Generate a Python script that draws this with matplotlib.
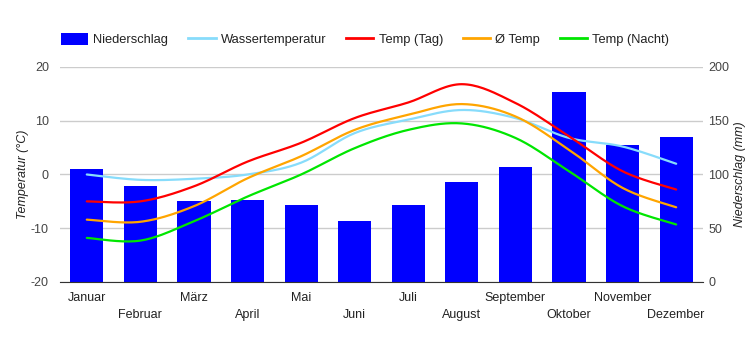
import numpy as np
import matplotlib.pyplot as plt
from matplotlib.patches import Patch
from matplotlib.lines import Line2D

plt.rcParams['font.family'] = ['Liberation Sans', 'DejaVu Sans']
plt.rcParams['axes.unicode_minus'] = False

months = ['Januar', 'Februar', 'März', 'April', 'Mai', 'Juni', 'Juli',
          'August', 'September', 'Oktober', 'November', 'Dezember']
niederschlag = [105, 89, 75, 76, 72, 57, 72, 93, 107, 177, 127, 135]
wasser = [0, -1, -0.8, 0, 2.2, 7.7, 10.2, 12, 10.5, 6.8, 5.2, 2.0]
temp_tag = [-5, -5, -2.2, 2.4, 5.9, 10.5, 13.4, 16.8, 13.3, 7.1, 0.6, -2.8]
temp_mittel = [-8.4, -8.8, -5.9, -0.7, 3.4, 8.3, 11.1, 13.1, 10.8, 4.6, -2.5, -6.1]
temp_nacht = [-11.8, -12.3, -8.7, -4.1, 0, 4.9, 8.3, 9.5, 6.8, 0.6, -5.9, -9.3]


def smooth(y, steps=20, tension=0.5):
    # cardinal spline through the points, only for drawing the curve
    x = np.arange(len(y), dtype=float)
    y = np.asarray(y, dtype=float)
    px = np.concatenate([[x[0]], x, [x[-1]]])
    py = np.concatenate([[y[0]], y, [y[-1]]])
    xs, ys = [], []
    t = np.linspace(0, 1, steps, endpoint=False)
    for i in range(1, len(px) - 2):
        m0x = tension * (px[i + 1] - px[i - 1])
        m0y = tension * (py[i + 1] - py[i - 1])
        m1x = tension * (px[i + 2] - px[i])
        m1y = tension * (py[i + 2] - py[i])
        h00 = 2 * t**3 - 3 * t**2 + 1
        h10 = t**3 - 2 * t**2 + t
        h01 = -2 * t**3 + 3 * t**2
        h11 = t**3 - t**2
        xs.append(h00 * px[i] + h10 * m0x + h01 * px[i + 1] + h11 * m1x)
        ys.append(h00 * py[i] + h10 * m0y + h01 * py[i + 1] + h11 * m1y)
    xs.append([x[-1]])
    ys.append([y[-1]])
    return np.concatenate(xs), np.concatenate(ys)


fig = plt.figure(figsize=(7.5, 3.5), dpi=100)
ax_p = fig.add_axes([0.08, 0.1943, 0.8573, 0.6143])
ax_t = ax_p.twinx()

x = np.arange(len(months))
ax_p.bar(x, niederschlag, width=0.62, color='#0000ff', zorder=2)
ax_p.set_ylim(0, 200)
ax_p.set_yticks([0, 50, 100, 150, 200])
ax_p.yaxis.tick_right()
ax_p.yaxis.set_label_position('right')
ax_p.set_ylabel('Niederschlag (mm)', style='italic', fontsize=9, color='#222222', labelpad=3)
ax_p.set_axisbelow(True)
ax_p.grid(axis='y', color='#cccccc', linewidth=1)

line_colors = ['#87dcfb', '#ff0000', '#ffa500', '#00e600']
series = [wasser, temp_tag, temp_mittel, temp_nacht]
for vals, c in zip(series, line_colors):
    sx, sy = smooth(vals)
    ax_t.plot(sx, sy, color=c, linewidth=1.6, solid_capstyle='round')

ax_t.set_ylim(-20, 20)
ax_t.set_yticks([-20, -10, 0, 10, 20])
ax_t.yaxis.tick_left()
ax_t.yaxis.set_label_position('left')
ax_t.set_ylabel('Temperatur (°C)', style='italic', fontsize=9, color='#222222', labelpad=1)

ax_p.set_xlim(-0.5, 11.5)
ax_p.set_xticks(x[::2])
ax_p.set_xticklabels(months[::2])
ax_p.set_xticks(x[1::2], minor=True)
ax_p.set_xticklabels(months[1::2], minor=True)
ax_p.tick_params(axis='x', which='major', length=0, pad=7.5, labelsize=9, labelcolor='#222222')
ax_p.tick_params(axis='x', which='minor', length=0, pad=19.5, labelsize=9, labelcolor='#222222')

for a in (ax_p, ax_t):
    for s in ('top', 'left', 'right', 'bottom'):
        a.spines[s].set_visible(False)
    a.tick_params(axis='y', length=0, labelsize=9, labelcolor='#444444')
ax_p.spines['bottom'].set_visible(True)
ax_p.spines['bottom'].set_color('#333333')
ax_p.tick_params(axis='y', pad=4)
ax_t.tick_params(axis='y', pad=8)

handles = [Patch(facecolor='#0000ff', edgecolor='none'),
           Line2D([], [], color=line_colors[0], linewidth=2),
           Line2D([], [], color=line_colors[1], linewidth=2),
           Line2D([], [], color=line_colors[2], linewidth=2),
           Line2D([], [], color=line_colors[3], linewidth=2)]
labels = ['Niederschlag', 'Wassertemperatur', 'Temp (Tag)', 'Ø Temp', 'Temp (Nacht)']
leg = fig.legend(handles, labels, loc='center left', bbox_to_anchor=(0.073, 0.887),
                 ncol=5, frameon=False, fontsize=9.3, handlelength=2.1, handleheight=1.1,
                 handletextpad=0.4, columnspacing=1.55, borderpad=0)
for t in leg.get_texts():
    t.set_color('#222222')

fig.savefig('out.png', dpi=100)
